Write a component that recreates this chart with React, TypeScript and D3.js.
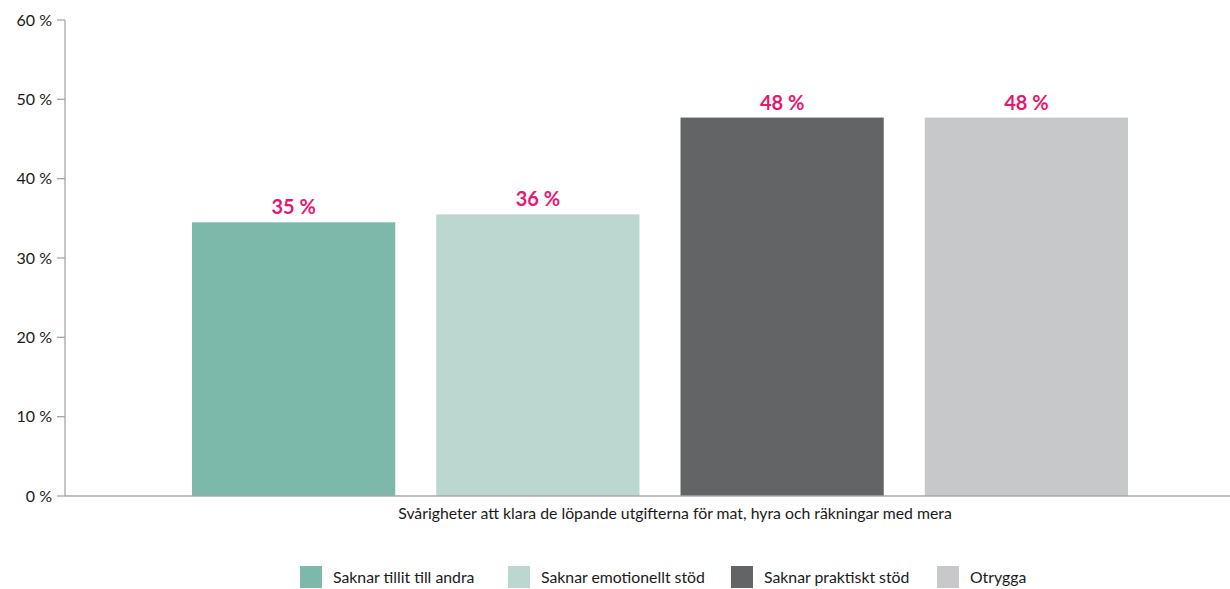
import React from "react";
import * as d3 from "d3";

const groupLabel = "Svårigheter att klara de löpande utgifterna för mat, hyra och räkningar med mera";
const seriesNames = ["Saknar tillit till andra", "Saknar emotionellt stöd", "Saknar praktiskt stöd", "Otrygga"];
const seriesValues = [34.5, 35.5, 47.7, 47.7];
const valueLabels = ["35 %", "36 %", "48 %", "48 %"];
const seriesColors = ["#7DB9AA", "#BBD7D0", "#636466", "#C7C8CA"];
const yTicks = [0, 10, 20, 30, 40, 50, 60];
const legendX = [300, 508, 731, 937];

const W = 1230;
const H = 589;
const FONT = "Lato, 'Open Sans', sans-serif";

export default function App() {
  const y = d3.scaleLinear().domain([0, 60]).range([496, 20]);
  const x = d3.scaleBand<string>().domain(seriesNames).range([192, 1128]).paddingInner(0.168).paddingOuter(0);
  const axisColor = "#A7A7A9";
  return (
    <svg width={W} height={H} style={{ position: "absolute", left: 0, top: 0, background: "#fff" }} fontFamily={FONT}>
      {seriesNames.map((s, i) => (
        <rect key={s} x={x(s)} y={y(seriesValues[i])} width={x.bandwidth()} height={y(0) - y(seriesValues[i])} fill={seriesColors[i]} />
      ))}
      {seriesNames.map((s, i) => (
        <text key={s + "l"} x={(x(s) as number) + x.bandwidth() / 2} y={y(seriesValues[i]) - 8} textAnchor="middle" fontSize={20} fontWeight={700} fill="#E6186F">
          {valueLabels[i]}
        </text>
      ))}
      <line x1={65} x2={65} y1={y(60)} y2={y(0)} stroke={axisColor} strokeWidth={1.3} />
      {yTicks.map((t) => (
        <g key={t}>
          <line x1={57} x2={65} y1={y(t)} y2={y(t)} stroke={axisColor} strokeWidth={1.3} />
          <text x={52} y={y(t)} dy="0.35em" textAnchor="end" fontSize={16} fill="#1a1a1a">
            {t} %
          </text>
        </g>
      ))}
      <line x1={65} x2={W} y1={y(0)} y2={y(0)} stroke={axisColor} strokeWidth={1.3} />
      <text x={675} y={519} textAnchor="middle" fontSize={15.8} fill="#1a1a1a">
        {groupLabel}
      </text>
      {seriesNames.map((s, i) => (
        <g key={s + "g"}>
          <rect x={legendX[i]} y={566} width={22} height={22} fill={seriesColors[i]} />
          <text x={legendX[i] + 33} y={577} dy="0.35em" fontSize={15.8} fill="#1a1a1a">
            {s}
          </text>
        </g>
      ))}
    </svg>
  );
}
